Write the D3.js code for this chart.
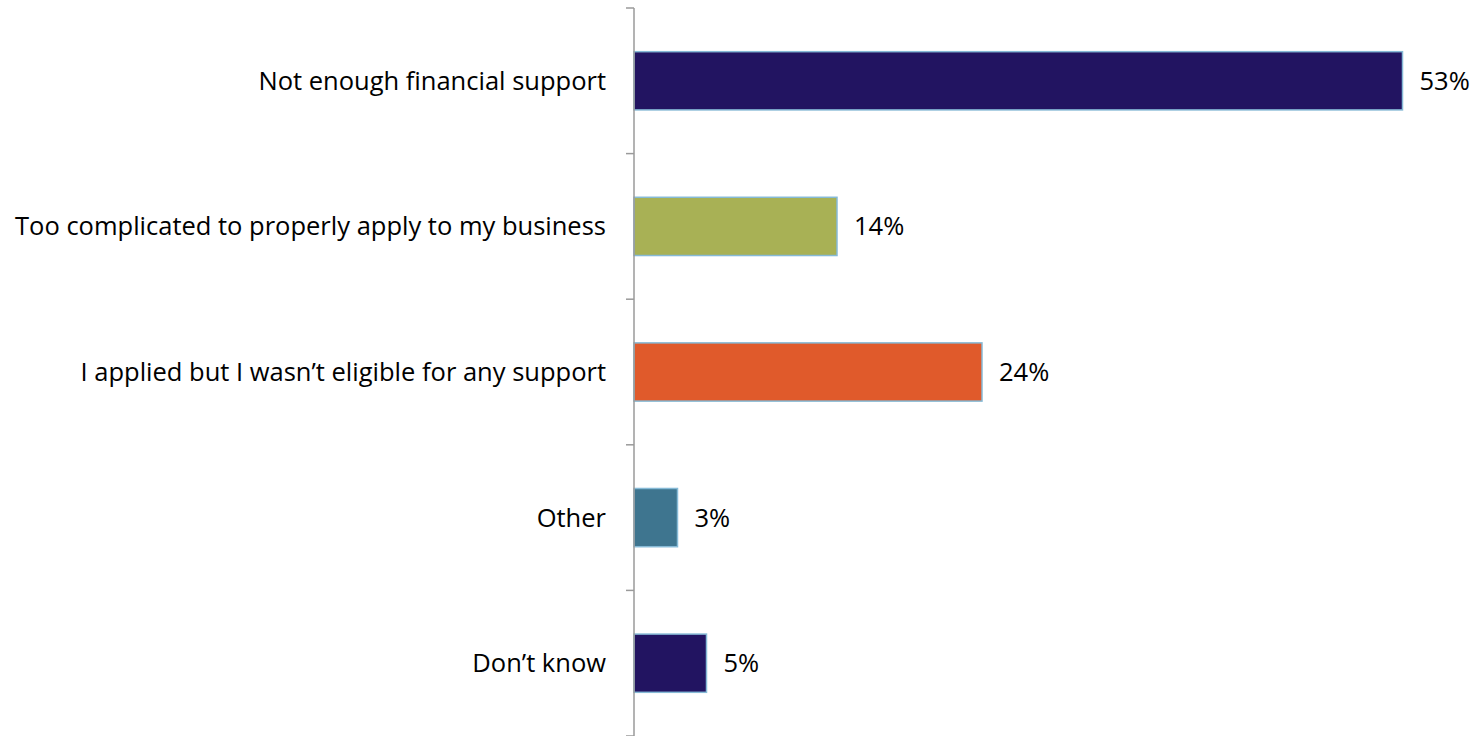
<!DOCTYPE html>
<html>
<head>
<meta charset="utf-8">
<script src="https://cdn.jsdelivr.net/npm/d3@7/dist/d3.min.js"></script>
<style>
  html, body { margin: 0; padding: 0; background: #fff; }
  svg { display: block; }
  text { font-family: "Open Sans", Lato, sans-serif; fill: #000; }
</style>
</head>
<body>
<svg id="chart" width="1477" height="736"></svg>
<script>
// Survey answers and their shares (percent)
const categories = [
  "Not enough financial support",
  "Too complicated to properly apply to my business",
  "I applied but I wasn\u2019t eligible for any support",
  "Other",
  "Don\u2019t know"
];
const values = [53, 14, 24, 3, 5];
const barColors = ["#221461", "#a8b155", "#e05a2b", "#3e758f", "#221461"];

const svg = d3.select("#chart");
const axisX = 634, plotTop = 8, plotBottom = 736;
const fontSize = 25.5;

const x = d3.scaleLinear().domain([0, 60]).range([axisX, axisX + 870]);
const y = d3.scaleBand()
  .domain(categories)
  .range([plotTop, plotBottom])
  .paddingInner(0.6)
  .paddingOuter(0.3);

// Bars
svg.append("g").selectAll("rect")
  .data(values)
  .join("rect")
  .attr("x", x(0))
  .attr("y", (d, i) => y(categories[i]))
  .attr("width", d => x(d) - x(0))
  .attr("height", y.bandwidth())
  .attr("fill", (d, i) => barColors[i])
  .attr("stroke", "#86bad6")
  .attr("stroke-width", 1.5);

// Value labels
svg.append("g").selectAll("text")
  .data(values)
  .join("text")
  .attr("x", d => x(d) + 17)
  .attr("y", (d, i) => y(categories[i]) + y.bandwidth() / 2)
  .attr("dy", "0.35em")
  .attr("font-size", fontSize)
  .text(d => d + "%");

// Category axis with boundary ticks between categories
const boundaries = d3.range(categories.length + 1).map(i => plotTop + i * y.step());
const axis = svg.append("g").attr("stroke", "#9a9a9a").attr("stroke-width", 1.5);
axis.append("line")
  .attr("x1", axisX).attr("x2", axisX)
  .attr("y1", plotTop).attr("y2", plotBottom);
axis.selectAll("line.tick")
  .data(boundaries)
  .join("line")
  .attr("class", "tick")
  .attr("x1", axisX - 8).attr("x2", axisX)
  .attr("y1", d => d).attr("y2", d => d);

// Category labels
svg.append("g").selectAll("text")
  .data(categories)
  .join("text")
  .attr("x", axisX - 28)
  .attr("y", d => y(d) + y.bandwidth() / 2)
  .attr("dy", "0.35em")
  .attr("text-anchor", "end")
  .attr("font-size", fontSize)
  .text(d => d);
</script>
</body>
</html>
